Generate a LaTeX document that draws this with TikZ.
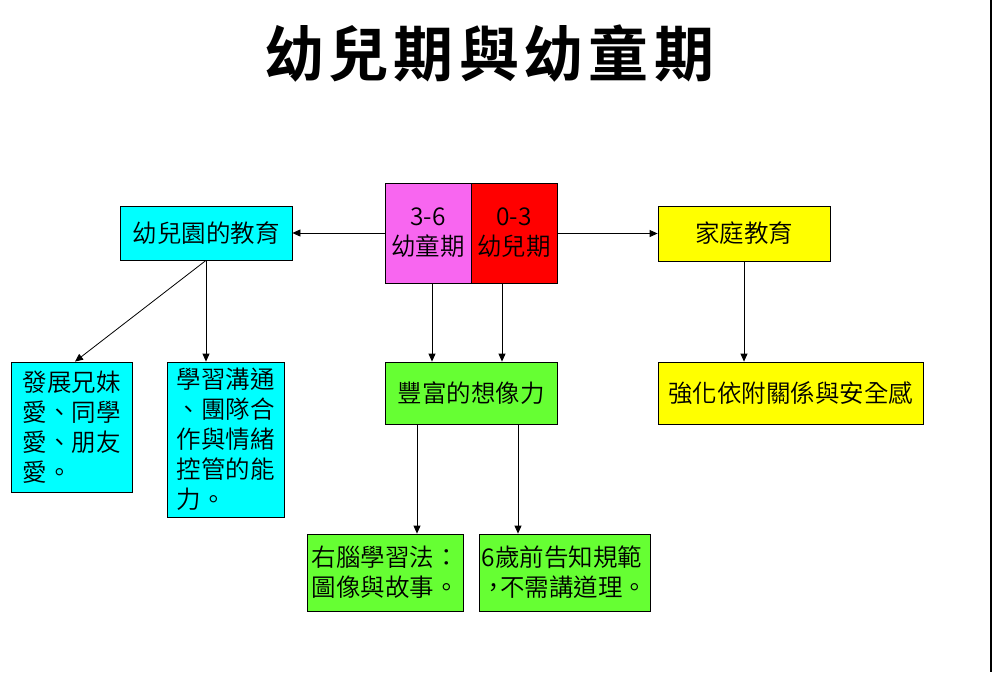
\documentclass[tikz,border=0pt]{standalone}
\usepackage{fontspec}
\setmainfont{Noto Sans CJK TC DemiLight}
\newfontfamily\titlefont{Noto Sans CJK TC Bold}
\usetikzlibrary{arrows.meta,calc}
\definecolor{cyanbox}{HTML}{00FFFF}
\definecolor{pinkbox}{HTML}{F866F0}
\definecolor{redbox}{HTML}{FF0000}
\definecolor{yellowbox}{HTML}{FFFF00}
\definecolor{greenbox}{HTML}{66FF33}
\tikzset{
  box/.style={draw=black, line width=0.8pt, inner sep=0pt, font=\fontsize{24.5}{30}\selectfont, align=left},
  arr/.style={draw=black, line width=0.8pt, -{Triangle[length=8pt,width=7pt]}},
}
\begin{document}
\begin{tikzpicture}[x=1pt,y=-1pt]
\useasboundingbox (0,0) rectangle (992,672);
\fill[white] (0,0) rectangle (992,672);
\draw[line width=2pt] (991,0) -- (991,672);

\node[font=\titlefont\fontsize{60}{60}\selectfont, inner sep=0pt] (title) at (489,54) {幼\kern5pt 兒\kern5pt 期\kern5pt 與\kern5pt 幼\kern5pt 童\kern5pt 期};

\node[box, fill=pinkbox, minimum width=86pt, minimum height=100pt, align=center] (p) at (428,233) {3-6\\幼童期};
\node[box, fill=redbox, minimum width=86pt, minimum height=100pt, align=center] (r) at (514,233) {0-3\\幼兒期};

\node[box, fill=cyanbox, minimum width=172pt, minimum height=54pt] (kg) at (206,233) {幼兒園的教育};
\node[box, fill=yellowbox, minimum width=172pt, minimum height=55pt] (home) at (744,233.5) {家庭教育};

\node[box, fill=cyanbox, minimum width=121pt, minimum height=130pt] (sib) at (71.5,427) {發展兄妹\\愛、同學\\愛、朋友\\愛。};
\node[box, fill=cyanbox, minimum width=117pt, minimum height=155pt] (learn) at (225.5,439.5) {學習溝通\\、團隊合\\作與情緒\\控管的能\\力。};

\node[box, fill=greenbox, minimum width=172pt, minimum height=62pt] (img) at (471,393) {豐富的想像力};
\node[box, fill=yellowbox, minimum width=265pt, minimum height=62pt] (strong) at (790.5,393) {強化依附關係與安全感};

\node[box, fill=greenbox, minimum width=156pt, minimum height=77pt] (rb) at (385,572.5) {右腦學習法：\\圖像與故事。};
\node[box, fill=greenbox, minimum width=171pt, minimum height=77pt] (rule) at (564.5,572.5) {6歲前告知規範\\，\kern-6pt 不需講道理。};

\draw[arr] (kg.east -| p.west) -- (kg.east);
\draw[arr] (home.west -| r.east) -- (home.west);
\draw[arr] (kg.south) -- (kg.south |- learn.north);
\draw[arr] (kg.south) -- ([xshift=3.5pt]sib.north);
\draw[arr] ([xshift=4pt]p.south) -- ([xshift=4pt]p.south |- img.north);
\draw[arr] ([xshift=-12pt]r.south) -- ([xshift=-12pt]r.south |- img.north);
\draw[arr] ([xshift=-54pt]img.south) -- ([xshift=-54pt]img.south |- rb.north);
\draw[arr] ([xshift=47pt]img.south) -- ([xshift=47pt]img.south |- rule.north);
\draw[arr] (home.south) -- (home.south |- strong.north);
\end{tikzpicture}
\end{document}
